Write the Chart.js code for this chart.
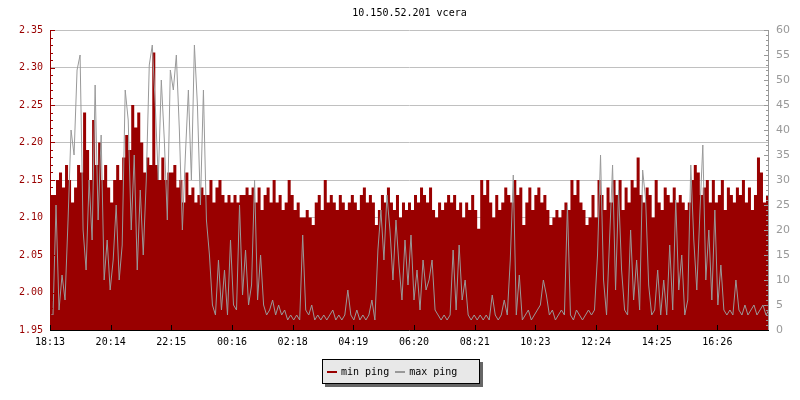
<!DOCTYPE html>
<html>
<head>
<meta charset="utf-8">
<script src="https://cdn.jsdelivr.net/npm/chart.js@4.4.1/dist/chart.umd.min.js"></script>
<style>
  body { margin: 0; background: #fff; }
  #wrap { position: relative; width: 800px; height: 400px; }
  #legend {
    position: absolute; left: 322px; top: 359px; width: 152px; height: 23px;
    border: 1px solid #000; background: #e8e8e8; box-shadow: 3px 3px 0 #666;
    display: flex; align-items: center; padding-left: 4px; box-sizing: content-box;
    font: 10px "DejaVu Sans Mono", monospace; color: #000;
  }
  #legend .item { display: flex; align-items: center; margin-right: 6px; }
  #legend .swatch { width: 10px; height: 2px; margin-right: 4px; }
</style>
</head>
<body>
<div id="wrap">
  <canvas id="pingChart" width="800" height="400"></canvas>
  <div id="legend"></div>
</div>
<script>
const title = "10.150.52.201 vcera";
const seriesNames = ["min ping", "max ping"];
const seriesColors = ["#990000", "#999999"];

// x tick labels, one every ~121 minutes from 18:13
const timeLabels = ["18:13", "20:14", "22:15", "00:16", "02:18", "04:19",
                    "06:20", "08:21", "10:23", "12:24", "14:25", "16:26"];
const tickStep = 121;   // minutes between labels
const sampleStep = 6;   // minutes between samples

// min ping (ms), left axis
const minPing = [
  2.13,2.13,2.15,2.16,2.14,2.17,2.15,2.12,2.14,2.17,
  2.16,2.24,2.19,2.15,2.23,2.17,2.20,2.15,2.17,2.14,
  2.12,2.15,2.17,2.15,2.18,2.21,2.19,2.25,2.22,2.24,
  2.20,2.16,2.18,2.17,2.32,2.17,2.15,2.18,2.15,2.16,
  2.16,2.17,2.14,2.15,2.12,2.16,2.13,2.14,2.12,2.13,
  2.14,2.13,2.13,2.15,2.12,2.14,2.15,2.13,2.12,2.13,
  2.12,2.13,2.12,2.13,2.13,2.14,2.13,2.14,2.12,2.14,
  2.11,2.13,2.14,2.12,2.15,2.12,2.13,2.11,2.12,2.15,
  2.13,2.11,2.12,2.10,2.10,2.11,2.10,2.09,2.12,2.13,
  2.11,2.15,2.12,2.13,2.12,2.11,2.13,2.12,2.11,2.12,
  2.13,2.12,2.11,2.13,2.14,2.12,2.13,2.12,2.09,2.11,
  2.13,2.12,2.14,2.12,2.11,2.13,2.10,2.12,2.11,2.12,
  2.11,2.13,2.12,2.14,2.13,2.12,2.14,2.11,2.10,2.12,
  2.11,2.12,2.13,2.12,2.13,2.11,2.12,2.10,2.12,2.11,
  2.13,2.11,2.085,2.15,2.13,2.15,2.12,2.10,2.13,2.11,
  2.12,2.14,2.13,2.12,2.15,2.13,2.14,2.09,2.12,2.14,
  2.11,2.13,2.14,2.12,2.13,2.11,2.09,2.10,2.11,2.10,
  2.11,2.12,2.11,2.15,2.13,2.15,2.12,2.11,2.09,2.10,
  2.13,2.10,2.15,2.13,2.11,2.14,2.12,2.15,2.13,2.15,
  2.11,2.14,2.12,2.15,2.14,2.18,2.13,2.12,2.14,2.13,
  2.10,2.15,2.12,2.11,2.14,2.13,2.12,2.14,2.12,2.13,
  2.12,2.11,2.12,2.15,2.17,2.16,2.13,2.14,2.15,2.12,
  2.15,2.12,2.13,2.15,2.11,2.14,2.13,2.12,2.14,2.13,
  2.15,2.12,2.14,2.11,2.13,2.18,2.16,2.12,2.13,2.11
];

// max ping (ms), right axis
const maxPing = [
  3,3,25,4,11,6,22,40,35,52,
  55,20,12,30,18,49,22,39,10,18,
  8,14,25,10,17,48,42,20,35,12,
  28,15,30,53,57,45,30,50,38,22,
  52,48,55,40,20,35,48,30,57,45,
  25,48,22,15,5,3,14,4,12,3,
  18,5,4,25,7,16,5,9,30,6,
  15,5,3,4,6,3,5,3,4,2,
  3,2,3,2,19,4,3,5,2,3,
  2,3,2,3,4,2,3,2,3,8,
  3,2,4,2,3,2,3,6,2,16,
  24,14,27,20,10,22,13,6,18,9,
  19,6,12,4,14,8,10,14,4,3,
  2,3,2,3,16,4,17,6,10,3,
  2,3,2,3,2,3,2,7,3,2,
  3,6,3,14,31,3,11,2,3,4,
  2,3,4,5,10,7,3,4,2,3,
  4,3,25,3,2,4,3,2,3,4,
  3,4,15,35,10,3,18,33,8,28,
  12,4,3,20,6,14,4,32,26,9,
  3,4,12,3,10,3,17,4,26,8,
  15,3,6,33,18,8,23,37,10,20,
  6,24,5,13,4,3,4,3,10,4,
  3,5,3,4,5,3,4,5,3,4
];

const monoFont = { family: "'DejaVu Sans Mono', monospace", size: 10, weight: "normal" };

// axis lines and inward tick marks, drawn over the data
const axisMarks = {
  id: "axisMarks",
  afterDatasetsDraw(chart) {
    const { ctx, chartArea: a, scales } = chart;
    const line = (x1, y1, x2, y2) => { ctx.beginPath(); ctx.moveTo(x1, y1); ctx.lineTo(x2, y2); ctx.stroke(); };
    ctx.save();
    ctx.lineWidth = 1;

    // left axis
    ctx.strokeStyle = seriesColors[0];
    line(a.left + 0.5, a.top, a.left + 0.5, a.bottom);
    for (let k = 0; k <= 40; k++) {
      const y = Math.round(scales.y.getPixelForValue(scales.y.min + k * 0.01)) + 0.5;
      line(a.left, y, a.left + (k % 5 === 0 ? 5 : 3), y);
    }

    // right axis
    ctx.strokeStyle = seriesColors[1];
    line(a.right - 0.5, a.top, a.right - 0.5, a.bottom);
    for (let k = 0; k <= 60; k++) {
      const y = Math.round(scales.y1.getPixelForValue(k)) + 0.5;
      line(a.right, y, a.right - (k % 5 === 0 ? 5 : 3), y);
    }

    // bottom axis
    ctx.strokeStyle = "#000";
    line(a.left, a.bottom + 0.5, a.right, a.bottom + 0.5);
    scales.x.ticks.forEach(t => {
      const x = Math.round(scales.x.getPixelForValue(t.value)) + 0.5;
      line(x, a.bottom, x, a.bottom - 5);
    });
    ctx.restore();
  }
};

const ctx = document.getElementById("pingChart").getContext("2d");
const chart = new Chart(ctx, {
  type: "line",
  data: {
    datasets: [
      {
        label: seriesNames[0],
        data: minPing.map((v, i) => ({ x: i * sampleStep, y: v })),
        yAxisID: "y",
        stepped: true,
        fill: "start",
        backgroundColor: seriesColors[0],
        borderColor: seriesColors[0],
        borderWidth: 0,
        pointRadius: 0,
        order: 2
      },
      {
        label: seriesNames[1],
        data: maxPing.map((v, i) => ({ x: i * sampleStep, y: v })),
        yAxisID: "y1",
        borderColor: seriesColors[1],
        borderWidth: 1,
        tension: 0,
        pointRadius: 0,
        fill: false,
        order: 1
      }
    ]
  },
  options: {
    responsive: false,
    animation: false,
    layout: { padding: 0 },
    plugins: {
      legend: { display: false },
      tooltip: { enabled: false },
      title: {
        display: true,
        text: title,
        fullSize: false,
        color: "#000",
        font: monoFont,
        padding: { top: 7, bottom: 11 }
      }
    },
    scales: {
      x: {
        type: "linear",
        min: 0,
        max: (minPing.length - 1) * sampleStep,
        afterBuildTicks: axis => { axis.ticks = timeLabels.map((t, i) => ({ value: i * tickStep })); },
        afterFit: s => { s.height = 70; },
        ticks: {
          autoSkip: false,
          maxRotation: 0,
          color: "#000",
          font: monoFont,
          padding: 6,
          callback: (v, i) => timeLabels[i]
        },
        grid: { display: false, drawTicks: false },
        border: { display: false }
      },
      y: {
        position: "left",
        min: 1.95,
        max: 2.35,
        afterFit: s => { s.width = 50; },
        ticks: {
          stepSize: 0.05,
          color: seriesColors[0],
          font: monoFont,
          padding: 7,
          callback: v => v.toFixed(2)
        },
        grid: { color: "#c0c0c0", lineWidth: 1, drawTicks: false },
        border: { display: false }
      },
      y1: {
        position: "right",
        min: 0,
        max: 60,
        afterFit: s => { s.width = 31; },
        ticks: {
          stepSize: 5,
          color: seriesColors[1],
          font: { family: "'DejaVu Sans', sans-serif", size: 11 },
          padding: 7
        },
        grid: { display: false, drawTicks: false },
        border: { display: false }
      }
    }
  },
  plugins: [axisMarks]
});

// legend box under the chart
const legend = document.getElementById("legend");
seriesNames.forEach((name, i) => {
  const item = document.createElement("span");
  item.className = "item";
  item.innerHTML = `<span class="swatch" style="background:${seriesColors[i]}"></span>${name}`;
  legend.appendChild(item);
});
</script>
</body>
</html>
